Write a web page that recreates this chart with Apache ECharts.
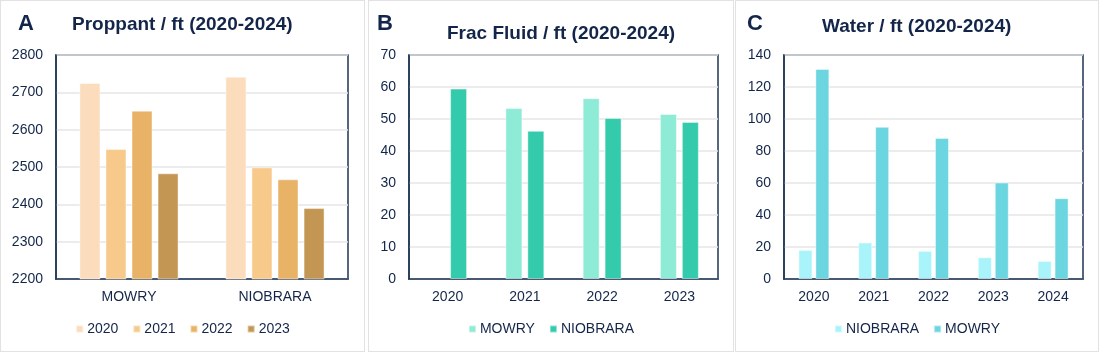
<!DOCTYPE html>
<html>
<head>
<meta charset="utf-8">
<script src="https://cdn.jsdelivr.net/npm/echarts@6/dist/echarts.min.js"></script>
<style>
  body { margin: 0; background: #fff; }
  .panel { position: absolute; top: 0; height: 352px; box-sizing: border-box; border: 1.5px solid #e2e2e2; background: #fff; }
  .chart { position: absolute; left: 0; top: 0; width: 100%; height: 100%; }
</style>
</head>
<body>
<div class="panel" style="left:0;width:365px;"><div id="chartA" class="chart"></div></div>
<div class="panel" style="left:368px;width:366px;"><div id="chartB" class="chart"></div></div>
<div class="panel" style="left:735px;width:364px;"><div id="chartC" class="chart"></div></div>
<script>
// A - proppant / ft
const proppantBasins = ["MOWRY", "NIOBRARA"];
const proppantYears = ["2020", "2021", "2022", "2023"];
const proppant2020 = [2725, 2742];
const proppant2021 = [2548, 2499];
const proppant2022 = [2651, 2467];
const proppant2023 = [2483, 2390];
const proppantTicks = [2200, 2800, 100];

// B - frac fluid / ft
const fluidYears = ["2020", "2021", "2022", "2023"];
const fluidMowry = [null, 53.4, 56.5, 51.6];
const fluidNiobrara = [59.5, 46.3, 50.3, 49.1];
const fluidTicks = [0, 70, 10];

// C - water / ft
const waterYears = ["2020", "2021", "2022", "2023", "2024"];
const waterNiobrara = [18.2, 22.8, 17.6, 13.6, 11.3];
const waterMowry = [131.3, 95.1, 88.2, 60.3, 50.5];
const waterTicks = [0, 140, 20];

const font = "Liberation Sans, Arial, sans-serif";
const navy = "#13264a";
const frame = "#1f3556";

function makeOption(cfg) {
  return {
    animation: false,
    textStyle: { fontFamily: font },
    title: [
      {
        text: cfg.letter, left: cfg.letterLeft, top: 12, padding: 0,
        textStyle: { fontSize: 22, fontWeight: "bold", color: navy, fontFamily: font }
      },
      {
        text: cfg.title, left: cfg.titleLeft, top: cfg.titleTop, padding: 0,
        textStyle: { fontSize: 19, fontWeight: "bold", color: navy, fontFamily: font }
      }
    ],
    legend: {
      data: cfg.series.map(s => s.name),
      top: 316, left: "center",
      itemWidth: 7, itemHeight: 7, itemGap: 14,
      icon: "rect",
      textStyle: { fontSize: 14, color: navy, fontFamily: font, padding: [0, 0, 0, -1] }
    },
    grid: { left: cfg.gridLeft, top: 54, width: cfg.gridWidth, height: 224, show: true, borderColor: frame, borderWidth: 1.5, backgroundColor: "transparent" },
    xAxis: {
      type: "category",
      data: cfg.cats,
      axisLine: { show: true, lineStyle: { color: frame, width: 1.5 } },
      axisTick: { show: false },
      axisLabel: { fontSize: 14, color: navy, margin: 11, fontFamily: font }
    },
    yAxis: {
      type: "value",
      min: cfg.ticks[0], max: cfg.ticks[1], interval: cfg.ticks[2],
      axisLine: { show: true, lineStyle: { color: frame, width: 1.5 } },
      axisTick: { show: false },
      axisLabel: { fontSize: 14, color: navy, margin: 13, fontFamily: font, formatter: v => String(v) },
      splitLine: { lineStyle: { color: "#e6e6e6", width: 1.5 } }
    },
    series: cfg.series.map(s => ({
      name: s.name,
      type: "bar",
      data: s.data,
      barWidth: cfg.barWidth,
      barGap: cfg.barGap,
      itemStyle: { color: s.color, borderColor: "rgba(255,255,255,0.45)", borderWidth: 1 }
    }))
  };
}

const chartA = echarts.init(document.getElementById("chartA"));
chartA.setOption(makeOption({
  letter: "A", letterLeft: 17,
  title: "Proppant / ft (2020-2024)", titleLeft: 71, titleTop: 14,
  gridLeft: 55, gridWidth: 292,
  cats: proppantBasins,
  ticks: proppantTicks,
  barWidth: 21, barGap: "24%",
  series: [
    { name: proppantYears[0], data: proppant2020, color: "#fbdcbc" },
    { name: proppantYears[1], data: proppant2021, color: "#f7c98b" },
    { name: proppantYears[2], data: proppant2022, color: "#e8b366" },
    { name: proppantYears[3], data: proppant2023, color: "#c39654" }
  ]
}));

const chartB = echarts.init(document.getElementById("chartB"));
chartB.setOption(makeOption({
  letter: "B", letterLeft: 8,
  title: "Frac Fluid / ft (2020-2024)", titleLeft: 78, titleTop: 23,
  gridLeft: 40, gridWidth: 309,
  cats: fluidYears,
  ticks: fluidTicks,
  barWidth: 17, barGap: "29%",
  series: [
    { name: "MOWRY", data: fluidMowry, color: "#8eebd6" },
    { name: "NIOBRARA", data: fluidNiobrara, color: "#33cbab" }
  ]
}));

const chartC = echarts.init(document.getElementById("chartC"));
chartC.setOption(makeOption({
  letter: "C", letterLeft: 11,
  title: "Water / ft (2020-2024)", titleLeft: 86, titleTop: 16,
  gridLeft: 48, gridWidth: 299,
  cats: waterYears,
  ticks: waterTicks,
  barWidth: 14, barGap: "21%",
  series: [
    { name: "NIOBRARA", data: waterNiobrara, color: "#a9f4fb" },
    { name: "MOWRY", data: waterMowry, color: "#6bd6e0" }
  ]
}));
</script>
</body>
</html>
